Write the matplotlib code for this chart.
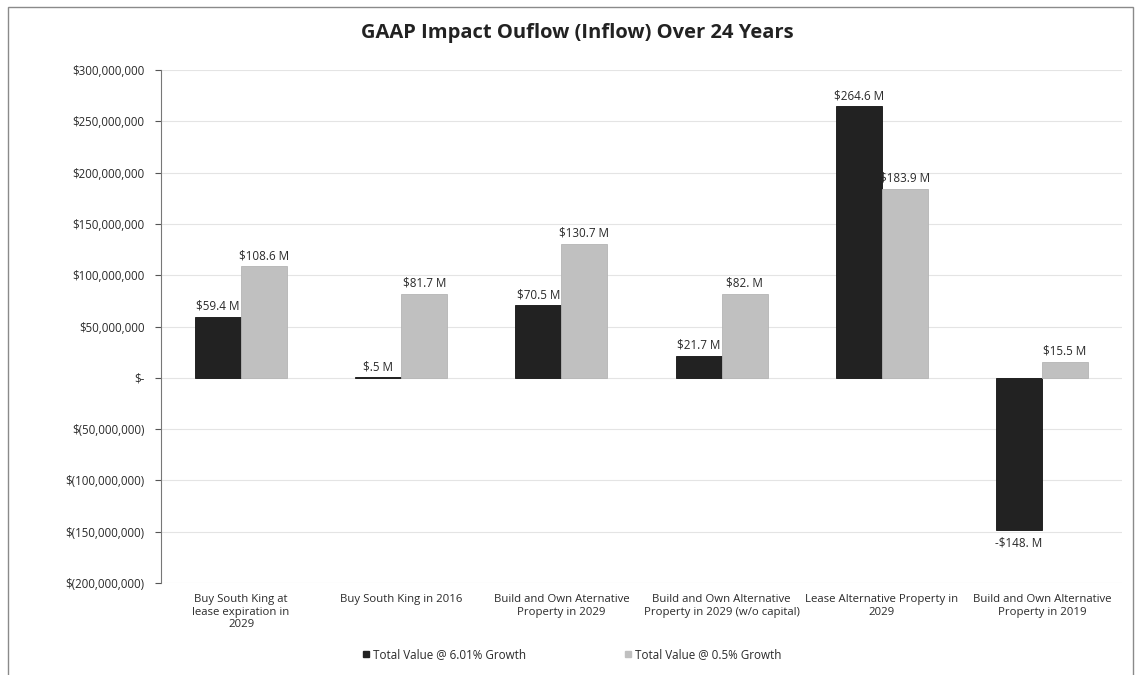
import matplotlib
matplotlib.use("Agg")
import matplotlib.pyplot as plt
import numpy as np
from matplotlib.ticker import FuncFormatter
from matplotlib.patches import Rectangle
from matplotlib.lines import Line2D

categories = [
    "Buy South King at\nlease expiration in\n2029",
    "Buy South King in 2016",
    "Build and Own Aternative\nProperty in 2029",
    "Build and Own Alternative\nProperty in 2029 (w/o capital)",
    "Lease Alternative Property in\n2029",
    "Build and Own Alternative\nProperty in 2019",
]
growth_601 = [59.4, 0.5, 70.5, 21.7, 264.6, -148.0]   # $ millions
growth_05 = [108.6, 81.7, 130.7, 82.0, 183.9, 15.5]   # $ millions
series_names = ["Total Value @ 6.01% Growth", "Total Value @ 0.5% Growth"]
yticks = [-200, -150, -100, -50, 0, 50, 100, 150, 200, 250, 300]
title = "GAAP Impact Ouflow (Inflow) Over 24 Years"

FONT = ["Open Sans", "DejaVu Sans"]
plt.rcParams["font.family"] = FONT

dark = "#222222"
light = "#c0c0c0"
txt = "#2a2a2a"

fig = plt.figure(figsize=(11.38, 6.75), dpi=100)
ax = fig.add_axes([161 / 1138, 1 - 583 / 675, (1122 - 161) / 1138, (583 - 70) / 675])

x = np.arange(len(categories))
w = 0.287
b1 = ax.bar(x - w / 2, [v * 1e6 for v in growth_601], w, color=dark, edgecolor="#111111", linewidth=0.6, zorder=3)
b2 = ax.bar(x + w / 2, [v * 1e6 for v in growth_05], w, color=light, edgecolor="#b5b5b5", linewidth=0.6, zorder=3)


def lab(v):
    s = f"{abs(v):.1f}"
    if s.endswith("0"):
        s = s[:-1]
    if s.startswith("0"):
        s = s[1:]
    return ("-$" if v < 0 else "$") + s + " M"


for bars, vals in ((b1, growth_601), (b2, growth_05)):
    for r, v in zip(bars, vals):
        cx = r.get_x() + r.get_width() / 2
        if v >= 0:
            ax.annotate(lab(v), (cx, v * 1e6), xytext=(0, 3), textcoords="offset points",
                        ha="center", va="bottom", fontsize=8.4, color=txt, zorder=4)
        else:
            ax.annotate(lab(v), (cx, v * 1e6), xytext=(0, -5), textcoords="offset points",
                        ha="center", va="top", fontsize=8.4, color=txt, zorder=4)

ax.set_xlim(-0.5, len(categories) - 0.5)
ax.set_ylim(-200e6, 300e6)
ax.set_yticks([t * 1e6 for t in yticks])


def yfmt(v, pos):
    m = int(round(v))
    if m == 0:
        return "$-"
    if m < 0:
        return f"$({abs(m):,})"
    return f"${m:,}"


ax.yaxis.set_major_formatter(FuncFormatter(yfmt))
ax.tick_params(axis="y", labelsize=8.3, colors="#555555", labelcolor=txt, length=4, width=0.8, pad=8)
ax.set_xticks(x)
ax.set_xticklabels(categories, fontsize=8.2, color=txt, linespacing=1.2)
ax.tick_params(axis="x", length=0, pad=8)
for s in ("top", "right", "bottom"):
    ax.spines[s].set_visible(False)
ax.spines["left"].set_color("#777777")
ax.spines["left"].set_linewidth(0.8)
ax.grid(axis="y", color="#e4e4e4", linewidth=0.8, zorder=0)
ax.set_axisbelow(True)

fig.text(577 / 1138, 1 - 33 / 675, title, ha="center", va="center",
         fontsize=14.5, fontweight="bold", color="#222222")

handles = [Line2D([], [], marker="s", linestyle="none", markersize=5, color=dark),
           Line2D([], [], marker="s", linestyle="none", markersize=5, color=light)]
fig.legend(handles, series_names, loc="center", bbox_to_anchor=(572 / 1138, 1 - 655 / 675),
           ncol=2, frameon=False, fontsize=8.4, handlelength=0.6, handletextpad=0.3,
           columnspacing=8.5, labelcolor=txt)

# outer chart frame
fig.patches.append(Rectangle((8 / 1138, -0.05), (1133 - 8) / 1138, 1.05 - 7 / 675,
                             transform=fig.transFigure, fill=False, edgecolor="#8a8a8a",
                             linewidth=1.0))

fig.savefig("out.png", dpi=100)
